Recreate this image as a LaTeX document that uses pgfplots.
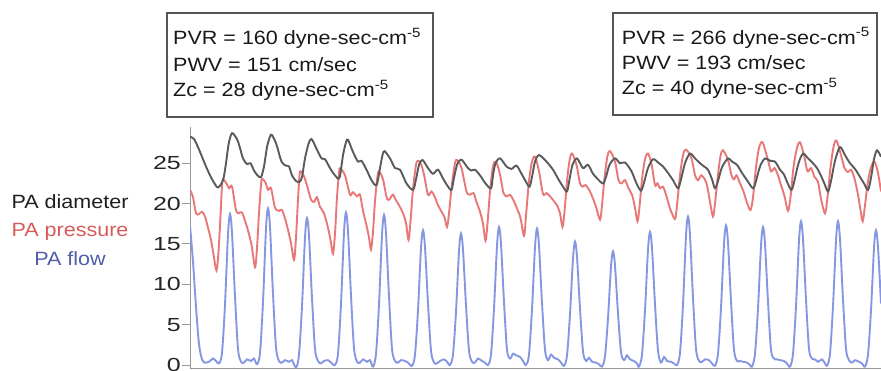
\documentclass[border=0pt]{standalone}
\usepackage{fontspec}
\setmainfont{Liberation Sans}[FakeStretch=1.12]
\newfontfamily\tickfont{Liberation Sans}[FakeStretch=1.32]
\usepackage{pgfplots}
\pgfplotsset{compat=1.18}
\definecolor{diamc}{HTML}{5A5A5A}
\definecolor{presc}{HTML}{E87878}
\definecolor{flowc}{HTML}{8596E2}
\definecolor{presl}{HTML}{D65A5A}
\definecolor{flowl}{HTML}{4F5EAA}
\definecolor{boxc}{HTML}{555555}
\begin{document}
\begin{tikzpicture}
\path[use as bounding box] (0,0) rectangle (881bp,371bp);
\begin{axis}[
  at={(190bp,3bp)}, anchor=south west,
  scale only axis, width=691bp, height=241bp,
  xmin=190, xmax=881, ymin=-0.37, ymax=29.49,
  axis x line=bottom, axis y line=left,
  axis line style={-, color=gray!80, line width=1bp},
  xtick=\empty,
  ytick={0,5,10,15,20,25},
  tick align=outside, major tick length=8bp,
  every tick/.style={color=gray!80, line width=1bp},
  /pgf/number format/assume math mode=true,
  yticklabel style={font=\tickfont\fontsize{19}{20}\selectfont, color=black!85, inner xsep=1bp},
  clip=true,
]
% PA flow
\addplot[flowc, line width=1.9bp, smooth, tension=0.5] coordinates {
(190,17.3) (193,12.8) (196,7.2) (199,2.6) (202,0.7) (205,0.3) (209,0.4) (213,0.8) (216,0.5)
(219,0.2) (222,1.5) (225,7.5) (228,16.2) (230,18.7) (232,16.4) (235,8.5) (238,2.0) (241,0.4) (244,0.3) (247,0.7) (251,0.5) (254,0.8)
(257,0.1) (260,1.5) (263,7.8) (266,16.9) (268,19.4) (270,17.1) (273,8.8) (276,2.2) (279,0.5) (282,0.3) (285,0.6) (289,0.4) (292,0.6)
(296,-0.3) (299,1.3) (302,7.3) (305,15.8) (307,18.2) (309,16.0) (312,8.3) (315,2.0) (318,0.5) (321,0.2) (324,0.5) (328,0.6) (331,0.3)
(335,0.0) (338,1.4) (341,7.6) (344,16.4) (346,18.9) (348,16.6) (351,8.6) (354,2.1) (357,0.4) (360,0.3) (363,0.7) (367,0.4) (370,0.6)
(373,-0.2) (376,1.4) (379,7.5) (382,16.1) (384,18.6) (386,16.3) (389,8.5) (392,2.0) (395,0.5) (398,0.3) (401,0.6) (405,0.5) (408,0.3)
(412,-0.1) (415,1.3) (418,6.8) (421,14.5) (423,16.7) (425,14.6) (428,7.6) (431,1.8) (434,0.3) (437,0.2) (440,0.5) (444,0.7) (447,0.4)
(450,0.0) (453,1.3) (456,6.6) (459,14.1) (461,16.3) (463,14.3) (466,7.4) (469,1.8) (472,0.4) (475,0.3) (478,0.8) (482,0.5) (485,0.3)
(488,0.0) (491,1.3) (494,7.0) (497,14.8) (499,17.1) (501,15.0) (504,7.8) (507,1.9) (510,0.8) (513,1.4) (516,1.2) (520,1.0) (523,0.5)
(526,0.0) (529,1.3) (532,6.9) (535,14.6) (537,16.9) (539,14.8) (542,7.7) (545,1.9) (548,0.6) (551,1.3) (554,0.9) (558,0.7) (561,0.3)
(564,-0.1) (567,1.2) (570,6.3) (573,13.2) (575,15.3) (577,13.4) (580,7.0) (583,1.7) (586,0.5) (589,0.9) (592,0.4) (596,0.3) (599,0.1)
(602,-0.2) (605,1.1) (608,5.8) (611,12.2) (613,14.1) (615,12.3) (618,6.4) (621,1.6) (624,0.6) (627,1.2) (630,0.7) (634,0.5) (637,0.2)
(639,-0.2) (642,1.3) (645,6.8) (648,14.3) (650,16.5) (652,14.5) (655,7.5) (658,1.8) (661,0.3) (664,1.0) (667,0.5) (671,0.4) (674,0.2)
(677,0.0) (680,1.5) (683,7.5) (686,16.0) (688,18.4) (690,16.1) (693,8.3) (696,2.0) (699,0.5) (702,0.4) (705,0.7) (709,0.6) (712,0.2)
(715,-0.1) (718,1.4) (721,7.1) (724,15.0) (726,17.3) (728,15.2) (731,7.9) (734,1.9) (737,0.5) (740,0.5) (743,0.4) (747,0.3) (750,0.0)
(752,-0.2) (755,1.4) (758,7.0) (761,14.8) (763,17.1) (765,15.0) (768,7.8) (771,1.9) (774,0.8) (777,0.7) (780,0.6) (784,0.5) (787,0.2)
(790,-0.2) (793,1.4) (796,7.3) (799,15.4) (801,17.8) (803,15.6) (806,8.1) (809,2.0) (812,0.8) (815,0.7) (818,0.4) (822,0.7) (825,0.2)
(827,-0.1) (830,1.4) (833,7.3) (836,15.4) (838,17.8) (840,15.6) (843,8.1) (846,2.0) (849,0.6) (852,0.3) (855,0.6) (859,0.4) (862,0.2)
(865,-0.2) (868,1.3) (871,6.8) (874,14.5) (876,16.7) (878,14.6) (881,7.6)
};
% PA pressure
\addplot[presc, line width=1.9bp, smooth, tension=0.5] coordinates {
(190,21.7) (193,20.8) (196,18.8) (199,18.7) (202,19.0) (205,18.4) (208,17.0) (211,15.5) (214,13.3) (216.5,11.7)
(218.5,14.0) (220.5,18.5) (222,22.2) (223,23.0) (226.5,22.5) (229,21.9) (232,22.1) (236,19.2) (239,18.8) (242,18.9) (247,17.1) (251.5,14.9) (255,12.1)
(257,14.5) (259,18.8) (261,22.3) (262,23.1) (265.5,22.6) (268,21.7) (271,21.9) (275,19.5) (279,19.1) (282,19.2) (286.5,17.5) (291,15.1) (294,13.0)
(296,15.8) (298,20.5) (299.5,23.5) (300.5,24.0) (304,23.4) (308,21.8) (311,20.5) (314,20.2) (317,20.8) (320,19.6) (324,18.8) (328,17.0) (330.5,15.5) (333,13.8)
(335,16.3) (337,20.8) (339,23.8) (340,24.4) (345,23.5) (350,21.1) (353,21.4) (357,20.9) (360,21.1) (363,19.1) (366.5,17.3) (369,15.8) (371,14.3)
(373,16.5) (375,20.3) (377.5,23.4) (379,24.0) (383,23.0) (387,20.6) (390,20.6) (393,21.1) (396,20.4) (399,19.8) (403,18.8) (406,17.6) (408.5,15.5)
(410.5,17.8) (413,21.8) (416,24.8) (418,25.3) (421,24.9) (424,23.6) (428,21.1) (431.5,21.5) (434.5,20.9) (438,19.8) (441.5,19.0) (444.5,18.3) (447,17.1)
(449,18.8) (452,22.5) (455,25.0) (457,25.4) (461.5,24.4) (466.5,21.5) (470,21.1) (473.5,21.3) (476.5,20.2) (480,19.0) (483,17.5) (485.5,15.4)
(487.5,17.5) (490,21.5) (493,24.6) (496,25.2) (500,23.6) (503.5,21.3) (507,20.9) (510,21.1) (513.5,20.4) (517,19.4) (520.5,18.2) (524,16.0)
(526,18.5) (529,22.8) (532,25.2) (535,25.8) (539,24.0) (543,21.2) (546.5,21.3) (550,20.9) (554,20.3) (557,19.8) (560,18.8) (562.5,17.1)
(564.5,19.0) (567,22.8) (569.5,25.3) (572,26.2) (576.5,24.8) (580,22.5) (583,22.1) (585.5,22.3) (590,21.5) (593,20.6) (596,19.6) (600,18.0)
(602,19.8) (604.5,23.2) (607.5,25.9) (610,26.5) (615,25.2) (618.5,22.9) (621.5,22.5) (625,22.9) (628.5,21.9) (632,21.1) (635,19.5) (637.5,17.8)
(639.5,19.6) (642,23.0) (645,25.5) (648,26.2) (651.5,24.9) (655,22.3) (657.5,22.5) (660,21.9) (663,22.1) (666.5,20.9) (670,19.4) (675,18.1)
(677,19.8) (680,23.5) (683,26.0) (686,26.7) (691.5,25.6) (695,23.5) (698,22.9) (701.5,23.5) (706.5,22.5) (710,20.2) (713,18.4)
(715,20.0) (718,23.6) (720.5,25.9) (723,26.6) (728,25.4) (731.5,23.5) (734,23.0) (736.5,23.5) (740,22.5) (743.5,21.5) (747,20.1) (750.5,19.2)
(753,20.8) (756,24.5) (759,26.9) (762.5,27.6) (767.5,25.6) (771,24.0) (774.5,24.4) (778,23.5) (781,22.3) (784.5,20.9) (788,19.1)
(790.5,20.8) (793.5,24.5) (797,26.9) (800,27.6) (804,26.0) (807.5,24.0) (811,24.4) (814.5,23.3) (818,22.7) (821,20.6) (825,18.8)
(827.5,20.8) (830.5,24.5) (833.5,27.0) (836.5,27.8) (841,26.0) (844.5,24.4) (848,23.9) (851,24.2) (854.5,23.1) (858,21.1) (860.5,19.2) (862.7,17.8)
(865,19.8) (868,22.8) (871,24.5) (874.5,25.2) (878,23.8) (881,21.5)
};
% PA diameter
\addplot[diamc, line width=1.9bp, smooth, tension=0.5] coordinates {
(190,28.3) (194,28.0) (198,27.0) (202,25.8) (206,24.6) (210,23.5) (214,22.6) (218,22.0)
(223,22.9) (226,25.0) (228.5,27.3) (231,28.5) (233,28.7) (238,27.7) (243,25.6) (247,24.9) (250.5,25.0) (254,24.1) (257.5,23.5) (261,23.3)
(264,24.6) (267,27.0) (270,28.3) (272,28.5) (276.5,27.3) (281.5,25.2) (286,24.7) (289,24.6) (292,23.5) (296,22.8) (299.5,22.7)
(302,23.3) (305,25.6) (308.5,27.4) (311.5,28.0) (316.5,26.8) (321.5,25.6) (325,25.5) (330,24.4) (335,23.5) (339.5,23.2)
(343,26.0) (346,27.6) (348,27.9) (353,26.4) (358,25.2) (361.5,25.3) (366.5,24.2) (371.5,22.9) (376.5,22.3)
(380,24.4) (382.5,26.0) (384.5,26.5) (390,25.6) (395,24.4) (400,24.2) (406.5,22.5) (413,21.7)
(416,23.0) (419,24.8) (422.5,25.4) (428,24.4) (433,23.7) (438,24.2) (443,23.1) (447.5,22.2) (451.5,21.7)
(454,23.2) (457,24.8) (459.5,25.3) (462,25.4) (468,24.4) (471.5,24.1) (475,24.2) (480,23.5) (485.5,22.5) (491,21.9)
(493,23.5) (495.5,25.0) (500,25.6) (506.5,24.6) (511.5,24.3) (516.5,24.7) (521.5,23.7) (526,22.7) (529.5,22.1)
(532,23.3) (535,25.2) (539,26.0) (546.5,25.2) (553,24.2) (558,23.1) (563,22.1) (567,21.5)
(569.5,23.0) (572.5,24.8) (577,25.6) (583,24.4) (588,24.8) (593,23.7) (598,23.0) (603,22.5)
(606,23.3) (609.5,24.8) (615,25.6) (620,25.0) (625,25.1) (631.5,24.0) (636.5,22.5) (641,21.6)
(644,22.6) (648,24.4) (653,25.5) (658,25.1) (663,24.6) (668,23.8) (673,22.9) (678,21.9)
(681,23.0) (685,25.0) (690,26.2) (695,25.6) (700,25.0) (704,24.6) (708,24.2) (712,23.0) (715,21.9)
(718,22.8) (722,24.5) (728,25.6) (732,25.2) (737,24.8) (742,23.8) (747,22.9) (753,21.9)
(756,22.8) (760,24.6) (765,25.6) (770,25.3) (775,25.2) (780,24.2) (784,23.6) (787,22.7) (791.5,21.7)
(794.5,22.9) (798.5,25.0) (803,26.2) (808,25.6) (813,25.0) (816.5,24.5) (820,23.7) (824,22.6) (828,21.5)
(831,22.8) (835,25.3) (840,27.0) (845,26.0) (850,25.0) (855,24.3) (860,23.3) (864,22.5) (868,21.7)
(871,23.2) (874,25.5) (877,26.6) (881,25.8)
};
\end{axis}
% left labels
\begin{scope}[every node/.style={font=\fontsize{19.3}{21}\selectfont, inner sep=0pt, anchor=base}]
\node[text=black!88] at (70bp,162.7bp) {PA diameter};
\node[text=presl] at (70bp,134.3bp) {PA pressure};
\node[text=flowl] at (70bp,105bp) {PA flow};
\end{scope}
% boxes
\draw[boxc, line width=2bp, fill=white] (166.7bp,254bp) rectangle (432.7bp,358bp);
\draw[boxc, line width=2bp, fill=white] (612.7bp,256bp) rectangle (877.3bp,358bp);
\begin{scope}[every node/.style={font=\fontsize{19.3}{21}\selectfont, inner sep=0pt, anchor=base west, text=black!90}]
\node at (173bp,326bp) {PVR = 160 dyne-sec-cm\textsuperscript{-5}};
\node at (173bp,299.3bp) {PWV = 151 cm/sec};
\node at (173bp,274.3bp) {Zc = 28 dyne-sec-cm\textsuperscript{-5}};
\node at (621.7bp,326.7bp) {PVR = 266 dyne-sec-cm\textsuperscript{-5}};
\node at (621.7bp,301bp) {PWV = 193 cm/sec};
\node at (621.7bp,276bp) {Zc = 40 dyne-sec-cm\textsuperscript{-5}};
\end{scope}
\end{tikzpicture}
\end{document}
